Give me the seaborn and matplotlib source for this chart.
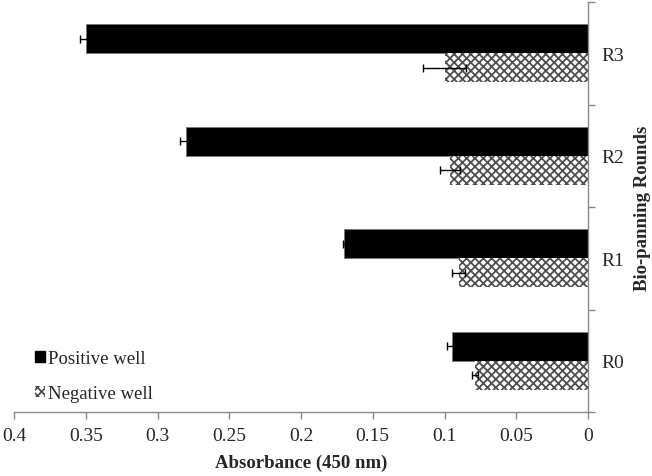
import matplotlib
matplotlib.use("Agg")
import matplotlib.pyplot as plt
import seaborn as sns
import pandas as pd
from matplotlib.patches import Patch

rounds = ["R3", "R2", "R1", "R0"]
positive = [0.350, 0.280, 0.170, 0.095]
positive_err = [0.004, 0.004, 0.001, 0.003]
negative = [0.100, 0.096, 0.090, 0.079]
negative_err = [0.015, 0.007, 0.0045, 0.002]
series = ["Positive well", "Negative well"]
xticks = [0, 0.05, 0.1, 0.15, 0.2, 0.25, 0.3, 0.35, 0.4]
xtick_labels = ["0", "0.05", "0.1", "0.15", "0.2", "0.25", "0.3", "0.35", "0.4"]

sns.set_style("white")
plt.rcParams["font.family"] = ["Liberation Serif", "DejaVu Serif"]
plt.rcParams["hatch.linewidth"] = 1.3

df = pd.DataFrame({
    "Round": rounds * 2,
    "Well": [series[0]] * 4 + [series[1]] * 4,
    "Absorbance": positive + negative,
})

fig = plt.figure(figsize=(6.52, 4.77), dpi=100)
ax = fig.add_axes([14 / 652, 64 / 477, 574 / 652, 410 / 477])

sns.barplot(data=df, y="Round", x="Absorbance", hue="Well", order=rounds,
            hue_order=series, orient="h", width=0.566, ax=ax,
            palette=["black", "white"], errorbar=None, legend=False,
            saturation=1)

hatch_color = "#505050"
for bar in ax.containers[0]:
    bar.set_facecolor("black")
    bar.set_edgecolor("#777777")
    bar.set_linewidth(0.6)
for bar in ax.containers[1]:
    bar.set_facecolor("white")
    bar.set_edgecolor(hatch_color)
    bar.set_hatch("xxxx")
    bar.set_linewidth(0)

for cont, vals, errs in [(ax.containers[0], positive, positive_err),
                         (ax.containers[1], negative, negative_err)]:
    for bar, v, e in zip(cont, vals, errs):
        yc = bar.get_y() + bar.get_height() / 2
        ax.errorbar(v, yc, xerr=e, fmt="none", ecolor="black",
                    elinewidth=1.0, capsize=3, capthick=1.0, zorder=5)

ax.set_xlim(0.4, 0)
ax.set_ylim(3.5, -0.5)
ax.set_xticks(xticks)
ax.set_xticklabels(xtick_labels, fontsize=14)

ax.yaxis.tick_right()
ax.yaxis.set_label_position("right")
ax.set_yticks([-0.5, 0.5, 1.5, 2.5, 3.5])
ax.set_yticklabels([])
ax.set_yticks([0, 1, 2, 3], minor=True)
ax.set_yticklabels(rounds, minor=True, fontsize=14)
ax.tick_params(axis="y", which="major", direction="out", length=5,
               color="#888888", width=1, right=True, left=False)
ax.tick_params(axis="y", which="minor", length=0, pad=10)
ax.tick_params(axis="x", direction="out", length=5, color="#888888",
               width=1, bottom=True, pad=6)

for s in ["top", "left"]:
    ax.spines[s].set_visible(False)
for s in ["bottom", "right"]:
    ax.spines[s].set_color("#888888")
    ax.spines[s].set_linewidth(1)

ax.set_xlabel("Absorbance (450 nm)", fontsize=13.5, fontweight="bold", labelpad=7)
ax.set_ylabel("Bio-panning Rounds", fontsize=13.5, fontweight="bold", labelpad=7)

handles = [Patch(facecolor="black", edgecolor="black", label=series[0]),
           Patch(facecolor="white", edgecolor=hatch_color, hatch="xxxx",
                 linewidth=0, label=series[1])]
ax.legend(handles=handles, loc="lower left", bbox_to_anchor=(0.024, 0.006),
          frameon=False, fontsize=13.5, handlelength=0.5, handleheight=0.5,
          handletextpad=0.2, labelspacing=0.95, borderaxespad=0)

fig.savefig("out.png", dpi=100)
